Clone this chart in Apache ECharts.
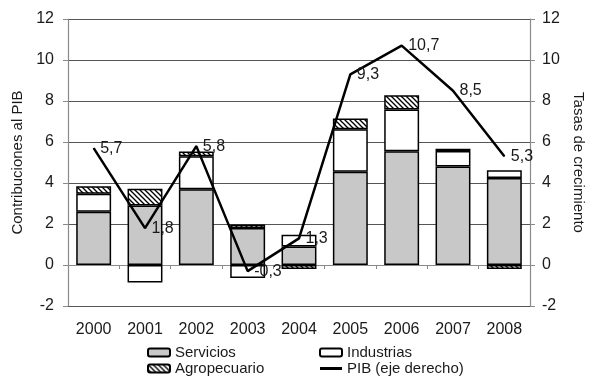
<!DOCTYPE html>
<html>
<head>
<meta charset="utf-8">
<script src="https://cdn.jsdelivr.net/npm/echarts@6/dist/echarts.min.js"></script>
<style>
  html, body { margin: 0; padding: 0; background: #fff; }
  #chart { width: 595px; height: 379px; }
</style>
</head>
<body>
<div id="chart"></div>
<script>
// Contribuciones sectoriales al crecimiento del PIB y tasa de crecimiento
const years = ['2000', '2001', '2002', '2003', '2004', '2005', '2006', '2007', '2008'];
const servicios = [2.6, 2.9, 3.7, 1.8, 0.9, 4.55, 5.55, 4.8, 4.25];
const industrias = [0.87, -0.85, 1.6, -0.63, 0.57, 2.07, 2.03, 0.76, 0.37];
const agropecuario = [0.37, 0.82, 0.24, 0.17, -0.2, 0.53, 0.7, 0.11, -0.2];
const pib = [5.7, 1.8, 5.8, -0.3, 1.3, 9.3, 10.7, 8.5, 5.3];
const axisTicks = { min: -2, max: 12, interval: 2 };

const FONT = '"Liberation Sans", Arial, sans-serif';
const TEXT = '#1a1a1a';

// diagonal hatch fill for the agricultural segment
function hatchPattern() {
  const size = 5;
  const c = document.createElement('canvas');
  c.width = size; c.height = size;
  const ctx = c.getContext('2d');
  ctx.fillStyle = '#ffffff';
  ctx.fillRect(0, 0, size, size);
  ctx.strokeStyle = '#000000';
  ctx.lineWidth = 1.3;
  for (let k = -1; k <= 1; k++) {
    ctx.beginPath();
    ctx.moveTo(-1, size * k - 1);
    ctx.lineTo(size + 1, size * k + size + 1);
    ctx.stroke();
  }
  return c;
}

const chart = echarts.init(document.getElementById('chart'), null, { renderer: 'canvas' });

const barBase = {
  type: 'bar',
  stack: 'contrib',
  barWidth: '68%',
  xAxisIndex: 0,
  yAxisIndex: 0,
  animation: false
};

const yBase = {
  type: 'value',
  min: axisTicks.min,
  max: axisTicks.max,
  interval: axisTicks.interval,
  nameLocation: 'middle',
  nameTextStyle: { fontFamily: FONT, fontSize: 15, color: TEXT },
  axisLine: { show: true, lineStyle: { color: '#8a8a8a', width: 1.2 } },
  axisTick: { show: true, length: 5, lineStyle: { color: '#8a8a8a' } },
  axisLabel: { fontFamily: FONT, fontSize: 16, color: TEXT }
};

const legendText = { fontFamily: FONT, fontSize: 15, color: TEXT, lineHeight: 14 };

chart.setOption({
  backgroundColor: '#ffffff',
  animation: false,
  grid: { left: 68, right: 65, top: 19, bottom: 73 },
  legend: [
    {
      data: ['Servicios', 'Agropecuario'],
      orient: 'vertical',
      left: 147, top: 345,
      itemWidth: 22, itemHeight: 8, itemGap: 1,
      padding: 0,
      textStyle: legendText
    },
    {
      data: ['Industrias', { name: 'PIB (eje derecho)', icon: 'path://M0,0 H22 V3 H0 Z' }],
      orient: 'vertical',
      left: 319, top: 345,
      itemWidth: 22, itemHeight: 8, itemGap: 1,
      padding: 0,
      textStyle: legendText
    }
  ],
  xAxis: [
    {
      type: 'category',
      data: years,
      position: 'bottom',
      axisLine: { show: false, onZero: false },
      axisTick: { show: false },
      axisLabel: { fontFamily: FONT, fontSize: 16, color: TEXT, margin: 16 },
      splitLine: { show: false }
    },
    {
      type: 'category',
      data: years,
      position: 'bottom',
      axisLine: { show: true, onZero: true, onZeroAxisIndex: 0, lineStyle: { color: '#8a8a8a', width: 1.2 } },
      axisTick: { show: true, length: 4, lineStyle: { color: '#8a8a8a' } },
      axisLabel: { show: false },
      splitLine: { show: false }
    }
  ],
  yAxis: [
    Object.assign({}, yBase, {
      name: 'Contribuciones al PIB',
      nameGap: 41,
      nameRotate: 90,
      position: 'left',
      axisLabel: Object.assign({}, yBase.axisLabel, { margin: 14 }),
      splitLine: { show: true, lineStyle: { color: '#555555', width: 1.2 } }
    }),
    Object.assign({}, yBase, {
      name: 'Tasas de crecimiento',
      nameGap: 34,
      nameRotate: -90,
      position: 'right',
      axisLabel: Object.assign({}, yBase.axisLabel, { margin: 12 }),
      splitLine: { show: false }
    })
  ],
  series: [
    Object.assign({}, barBase, {
      name: 'Servicios',
      data: servicios,
      itemStyle: { color: '#c8c8c8', borderColor: '#000', borderWidth: 1.5 }
    }),
    Object.assign({}, barBase, {
      name: 'Industrias',
      data: industrias,
      itemStyle: { color: '#ffffff', borderColor: '#000', borderWidth: 1.5 }
    }),
    Object.assign({}, barBase, {
      name: 'Agropecuario',
      data: agropecuario,
      itemStyle: { color: { image: hatchPattern(), repeat: 'repeat' }, borderColor: '#000', borderWidth: 1.5 }
    }),
    {
      name: 'PIB (eje derecho)',
      type: 'line',
      xAxisIndex: 0,
      yAxisIndex: 1,
      data: pib,
      symbol: 'circle',
      symbolSize: 1,
      showSymbol: true,
      lineStyle: { color: '#000', width: 2.5 },
      itemStyle: { color: '#000' },
      label: {
        show: true,
        position: 'right',
        distance: 6,
        offset: [0, 2],
        fontFamily: FONT,
        fontSize: 16,
        color: TEXT,
        formatter: p => p.value.toFixed(1).replace('.', ',')
      },
      labelLayout: { hideOverlap: false },
      z: 5
    }
  ]
});
</script>
</body>
</html>
